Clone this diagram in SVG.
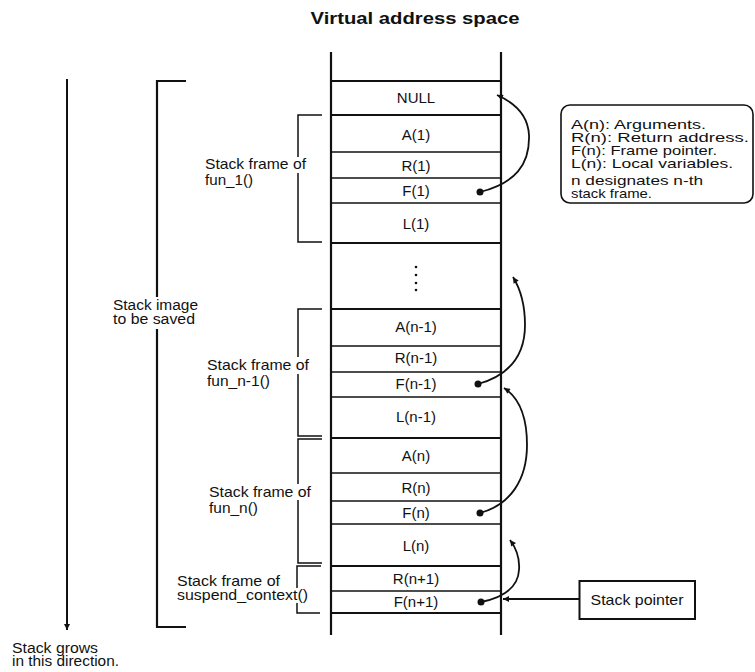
<svg xmlns="http://www.w3.org/2000/svg" width="755" height="672" viewBox="0 0 755 672">
<style>
text{font-family:"Liberation Sans",Arial,Helvetica,sans-serif;fill:#111}
.cell{font-size:15px;text-anchor:middle}
.lbl{font-size:15px}
.sm{font-size:14px}
.leg{font-size:13.5px}
.title{font-size:16px;font-weight:bold;text-anchor:middle}
.col{stroke:#111;stroke-width:2.2;fill:none}
.thick{stroke:#111;stroke-width:2.2;fill:none}
.thin{stroke:#111;stroke-width:1.6;fill:none}
.br{stroke:#111;stroke-width:1.5;fill:none}
.bigbr{stroke:#111;stroke-width:2.2;fill:none}
.arc{stroke:#111;stroke-width:1.8;fill:none;marker-end:url(#ah)}
.dot{fill:#111}
</style>
<defs>
<marker id="ah" viewBox="0 0 10 10" refX="10" refY="5" markerWidth="10" markerHeight="6" markerUnits="userSpaceOnUse" orient="auto">
<path d="M0,0 L10,5 L0,10 z" fill="#111"/>
</marker>
</defs>

<text class="title" x="415" y="23.5" textLength="209" lengthAdjust="spacingAndGlyphs">Virtual address space</text>

<g id="stack-column">
<line class="col" x1="331" y1="52" x2="331" y2="635"/>
<line class="col" x1="501" y1="52" x2="501" y2="635"/>
<line class="thick" x1="331" y1="81" x2="501" y2="81"/>
<line class="thick" x1="331" y1="115" x2="501" y2="115"/>
<line class="thin" x1="331" y1="152" x2="501" y2="152"/>
<line class="thin" x1="331" y1="178" x2="501" y2="178"/>
<line class="thin" x1="331" y1="203" x2="501" y2="203"/>
<line class="thick" x1="331" y1="243" x2="501" y2="243"/>
<line class="thick" x1="331" y1="309" x2="501" y2="309"/>
<line class="thin" x1="331" y1="346" x2="501" y2="346"/>
<line class="thin" x1="331" y1="372" x2="501" y2="372"/>
<line class="thin" x1="331" y1="397" x2="501" y2="397"/>
<line class="thick" x1="331" y1="438" x2="501" y2="438"/>
<line class="thin" x1="331" y1="473" x2="501" y2="473"/>
<line class="thin" x1="331" y1="501" x2="501" y2="501"/>
<line class="thin" x1="331" y1="524" x2="501" y2="524"/>
<line class="thick" x1="331" y1="566" x2="501" y2="566"/>
<line class="thin" x1="331" y1="591" x2="501" y2="591"/>
<line class="thick" x1="331" y1="613" x2="501" y2="613"/>
</g>

<g id="cell-null"><text class="cell" x="416" y="103">NULL</text></g>
<g id="frame-fun1">
<text class="cell" x="416" y="140">A(1)</text>
<text class="cell" x="416" y="170.5">R(1)</text>
<text class="cell" x="416" y="195.5">F(1)</text>
<circle class="dot" cx="480" cy="192" r="3.5"/>
<text class="cell" x="416" y="229">L(1)</text>
<path class="br" d="M322,115 H298 V157 M298,173 V242 H322"/>
<text class="lbl" x="205" y="169" textLength="101" lengthAdjust="spacingAndGlyphs">Stack frame of</text>
<text class="lbl" x="205" y="185" textLength="48" lengthAdjust="spacingAndGlyphs">fun_1()</text>
</g>
<g id="gap-dots">
<circle class="dot" cx="416" cy="267" r="1.3"/>
<circle class="dot" cx="416" cy="275" r="1.3"/>
<circle class="dot" cx="416" cy="283" r="1.3"/>
<circle class="dot" cx="416" cy="290" r="1.3"/>
</g>
<g id="frame-fun-n-1">
<text class="cell" x="416" y="332">A(n-1)</text>
<text class="cell" x="416" y="362.5">R(n-1)</text>
<text class="cell" x="416" y="388.5">F(n-1)</text>
<circle class="dot" cx="478" cy="384" r="3.5"/>
<text class="cell" x="416" y="421.5">L(n-1)</text>
<path class="br" d="M322,309 H298 V357 M298,374 V436 H322"/>
<text class="lbl" x="207" y="370" textLength="102" lengthAdjust="spacingAndGlyphs">Stack frame of</text>
<text class="lbl" x="207" y="385.5" textLength="63" lengthAdjust="spacingAndGlyphs">fun_n-1()</text>
</g>
<g id="frame-fun-n">
<text class="cell" x="416" y="461">A(n)</text>
<text class="cell" x="416" y="493">R(n)</text>
<text class="cell" x="416" y="517.5">F(n)</text>
<circle class="dot" cx="480" cy="513" r="3.5"/>
<text class="cell" x="416" y="551">L(n)</text>
<path class="br" d="M322,439 H298 V484 M298,500 V563 H322"/>
<text class="lbl" x="209" y="496.5" textLength="102" lengthAdjust="spacingAndGlyphs">Stack frame of</text>
<text class="lbl" x="209" y="512.5" textLength="49" lengthAdjust="spacingAndGlyphs">fun_n()</text>
</g>
<g id="frame-suspend-context">
<text class="cell" x="416" y="584">R(n+1)</text>
<text class="cell" x="416" y="607">F(n+1)</text>
<circle class="dot" cx="481" cy="602" r="3.5"/>
<path class="br" d="M321,566 H297 V588 M297,603 V613 H320"/>
<text class="lbl" x="177" y="585.5" textLength="103" lengthAdjust="spacingAndGlyphs">Stack frame of</text>
<text class="lbl" x="177" y="600" textLength="131" lengthAdjust="spacingAndGlyphs">suspend_context()</text>
</g>

<g id="stack-image">
<path class="bigbr" d="M186,81 H157 V297 M157,329 V627 H186"/>
<text class="sm" x="113" y="310" textLength="85" lengthAdjust="spacingAndGlyphs">Stack image</text>
<text class="sm" x="113" y="323.5" textLength="82" lengthAdjust="spacingAndGlyphs">to be saved</text>
</g>

<g id="growth-label">
<text class="sm" x="12" y="653" textLength="86" lengthAdjust="spacingAndGlyphs">Stack grows</text>
<text class="sm" x="12" y="666" textLength="107" lengthAdjust="spacingAndGlyphs">in this direction.</text>
</g>

<g id="stack-pointer">
<rect x="579.5" y="581" width="115.5" height="38" fill="none" stroke="#111" stroke-width="2"/>
<text class="lbl" x="637" y="605" text-anchor="middle" textLength="93" lengthAdjust="spacingAndGlyphs">Stack pointer</text>
</g>

<g id="legend">
<rect x="561" y="105" width="192" height="98" rx="9" fill="none" stroke="#111" stroke-width="1.6"/>
<text class="leg" x="571" y="129" textLength="135" lengthAdjust="spacingAndGlyphs">A(n): Arguments.</text>
<text class="leg" x="571" y="142" textLength="178" lengthAdjust="spacingAndGlyphs">R(n): Return address.</text>
<text class="leg" x="571" y="155" textLength="146" lengthAdjust="spacingAndGlyphs">F(n): Frame pointer.</text>
<text class="leg" x="571" y="168" textLength="162" lengthAdjust="spacingAndGlyphs">L(n): Local variables.</text>
<text class="leg" x="571" y="185" textLength="132" lengthAdjust="spacingAndGlyphs">n designates n-th</text>
<text class="leg" x="571" y="198" textLength="81" lengthAdjust="spacingAndGlyphs">stack frame.</text>
</g>

<g id="connectors">
<line x1="67" y1="79" x2="67" y2="630" stroke="#111" stroke-width="2" marker-end="url(#ah)"/>
<path class="arc" d="M480,192 C515,183 530,165 529,135 C528,115 515,103 497,95"/>
<path class="arc" d="M478,384 C510,375 525,355 525,325 C525,305 521,290 513,277"/>
<path class="arc" d="M480,513 C510,505 527,480 527,445 C527,415 518,397 504,388"/>
<path class="arc" d="M481,602 C500,598 518,590 519,570 C520,558 516,548 510,540"/>
<line x1="579" y1="599" x2="503" y2="599" stroke="#111" stroke-width="1.8" marker-end="url(#ah)"/>
</g>
</svg>
